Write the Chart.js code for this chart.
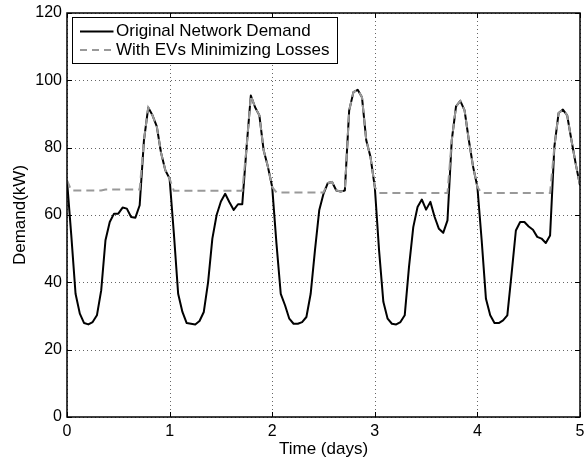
<!DOCTYPE html>
<html>
<head>
<meta charset="utf-8">
<title>Network demand</title>
<script src="https://cdn.jsdelivr.net/npm/chart.js@4.4.1/dist/chart.umd.min.js"></script>
<style>
  html, body { margin: 0; padding: 0; background: #fff; }
  #wrap { width: 584px; height: 462px; }
</style>
</head>
<body>
<div id="wrap"><canvas id="demandChart" width="584" height="462"></canvas></div>
<script>
// Hourly samples over five days (kW)
const HOURS_PER_DAY = 24;

const originalDemand = [
  70.3, 54.0, 36.6, 30.7, 27.9, 27.5, 28.2, 30.2, 37.6, 52.5, 57.9, 60.4,
  60.4, 62.2, 61.9, 59.4, 59.2, 62.9, 82.2, 91.9, 89.6, 86.3, 78.5, 73.3,
  70.8, 54.5, 36.6, 31.2, 27.9, 27.7, 27.5, 28.5, 31.2, 40.0, 53.0, 60.0,
  64.0, 66.3, 63.8, 61.5, 63.2, 63.2, 80.0, 95.5, 92.0, 89.6, 79.2, 74.3,
  68.3, 51.5, 36.6, 33.2, 29.2, 27.7, 27.7, 28.2, 29.7, 36.6, 49.5, 61.4,
  66.3, 69.5, 69.8, 67.3, 67.0, 67.3, 91.0, 96.5, 97.2, 95.0, 82.2, 77.2,
  68.3, 49.5, 34.2, 29.2, 27.7, 27.5, 28.2, 30.2, 44.6, 56.4, 62.4, 64.6,
  61.6, 63.9, 59.4, 55.9, 54.7, 58.4, 82.2, 92.3, 93.9, 91.1, 82.2, 74.3,
  68.3, 52.5, 35.1, 30.2, 27.9, 27.9, 28.7, 30.2, 42.6, 55.4, 57.9, 57.9,
  56.6, 55.6, 53.5, 53.0, 51.7, 53.9, 80.2, 90.3, 91.3, 89.6, 82.2, 75.2,
  68.8
];

const evDemand = [
  70.3, 67.3, 67.3, 67.3, 67.3, 67.3, 67.3, 67.3, 67.3, 67.6, 67.6, 67.6,
  67.6, 67.6, 67.6, 67.6, 67.6, 67.6, 82.2, 91.9, 89.6, 86.3, 78.5, 73.3,
  70.8, 67.2, 67.2, 67.2, 67.2, 67.2, 67.2, 67.2, 67.2, 67.2, 67.2, 67.2,
  67.2, 67.2, 67.2, 67.2, 67.2, 67.2, 80.0, 95.5, 92.0, 89.6, 79.2, 74.3,
  68.3, 66.7, 66.7, 66.7, 66.7, 66.7, 66.7, 66.7, 66.7, 66.7, 66.7, 66.7,
  66.7, 69.5, 69.8, 67.3, 67.0, 67.3, 91.0, 96.5, 97.2, 95.0, 82.2, 77.2,
  68.3, 66.5, 66.5, 66.5, 66.5, 66.5, 66.5, 66.5, 66.5, 66.5, 66.5, 66.5,
  66.5, 66.5, 66.5, 66.5, 66.5, 66.5, 82.2, 92.3, 93.9, 91.1, 82.2, 74.3,
  68.3, 66.5, 66.5, 66.5, 66.5, 66.5, 66.5, 66.5, 66.5, 66.5, 66.5, 66.5,
  66.5, 66.5, 66.5, 66.5, 66.5, 66.5, 80.2, 90.3, 91.3, 89.6, 82.2, 75.2,
  68.8
];

const seriesNames = ['Original Network Demand', 'With EVs Minimizing Losses'];
const dayTicks = [0, 1, 2, 3, 4, 5];
const demandTicks = [0, 20, 40, 60, 80, 100, 120];

const FONT = '"Liberation Sans", Arial, Helvetica, sans-serif';
const GREY = '#999999';

const toPoints = arr => arr.map((v, i) => ({ x: i / HOURS_PER_DAY, y: v }));

// grid, box frame with inward ticks, and the legend box
const matlabFrame = {
  id: 'matlabFrame',
  beforeDatasetsDraw(chart) {
    const { ctx, chartArea: a, scales: { x, y } } = chart;
    ctx.save();
    ctx.strokeStyle = '#666';
    ctx.lineWidth = 1;
    ctx.setLineDash([1, 3]);
    dayTicks.forEach(t => {
      const px = Math.round(x.getPixelForValue(t)) + 0.5;
      ctx.beginPath(); ctx.moveTo(px, a.top); ctx.lineTo(px, a.bottom); ctx.stroke();
    });
    demandTicks.forEach(t => {
      const py = Math.round(y.getPixelForValue(t)) + 0.5;
      ctx.beginPath(); ctx.moveTo(a.left, py); ctx.lineTo(a.right, py); ctx.stroke();
    });
    ctx.restore();
  },
  afterDatasetsDraw(chart) {
    const { ctx, chartArea: a, scales: { x, y } } = chart;
    const tick = 5;
    ctx.save();
    ctx.setLineDash([]);
    ctx.strokeStyle = '#000';
    ctx.lineWidth = 1.5;
    ctx.strokeRect(a.left, a.top, a.right - a.left, a.bottom - a.top);

    ctx.lineWidth = 1;
    dayTicks.forEach(t => {
      const px = Math.round(x.getPixelForValue(t)) + 0.5;
      ctx.beginPath();
      ctx.moveTo(px, a.bottom); ctx.lineTo(px, a.bottom - tick);
      ctx.moveTo(px, a.top); ctx.lineTo(px, a.top + tick);
      ctx.stroke();
    });
    demandTicks.forEach(t => {
      const py = Math.round(y.getPixelForValue(t)) + 0.5;
      ctx.beginPath();
      ctx.moveTo(a.left, py); ctx.lineTo(a.left + tick, py);
      ctx.moveTo(a.right, py); ctx.lineTo(a.right - tick, py);
      ctx.stroke();
    });

    // legend
    const lx = a.left + 5.5, ly = a.top + 4.5, lw = 265, lh = 46;
    ctx.fillStyle = '#fff';
    ctx.fillRect(lx, ly, lw, lh);
    ctx.strokeStyle = '#000';
    ctx.lineWidth = 1;
    ctx.strokeRect(lx, ly, lw, lh);

    const rows = [
      { y: ly + 14, color: '#000', dash: [], width: 2 },
      { y: ly + 32.5, color: GREY, dash: [7, 5], width: 2 }
    ];
    rows.forEach((r, i) => {
      ctx.beginPath();
      ctx.strokeStyle = r.color;
      ctx.lineWidth = r.width;
      ctx.setLineDash(r.dash);
      ctx.moveTo(lx + 7.5, r.y);
      ctx.lineTo(lx + 41, r.y);
      ctx.stroke();
      ctx.setLineDash([]);
      ctx.fillStyle = '#000';
      ctx.font = '17px ' + FONT;
      ctx.textAlign = 'left';
      ctx.textBaseline = 'middle';
      ctx.fillText(seriesNames[i], lx + 43.5, r.y);
    });
    ctx.restore();
  }
};

const ctx = document.getElementById('demandChart').getContext('2d');

const demandChart = new Chart(ctx, {
  type: 'line',
  data: {
    datasets: [
      {
        label: seriesNames[0],
        data: toPoints(originalDemand),
        borderColor: '#000',
        borderWidth: 2,
        borderJoinStyle: 'round',
        pointRadius: 0,
        tension: 0,
        order: 1
      },
      {
        label: seriesNames[1],
        data: toPoints(evDemand),
        borderColor: GREY,
        borderWidth: 2,
        borderDash: [8, 5],
        pointRadius: 0,
        tension: 0,
        order: 0
      }
    ]
  },
  options: {
    responsive: false,
    animation: false,
    events: [],
    layout: { padding: { top: 13, right: 4, left: 0, bottom: 0 } },
    plugins: {
      legend: { display: false },
      tooltip: { enabled: false }
    },
    scales: {
      x: {
        type: 'linear',
        min: 0,
        max: 5,
        afterBuildTicks: s => { s.ticks = dayTicks.map(v => ({ value: v })); },
        afterFit: s => {
          s.height = 45;
          s.paddingLeft = 0;
          s.paddingRight = 0;
        },
        grid: { display: false, drawTicks: false },
        border: { display: false },
        ticks: {
          color: '#000',
          padding: 5,
          maxRotation: 0,
          font: { family: FONT, size: 16 }
        },
        title: {
          display: true,
          text: 'Time (days)',
          color: '#000',
          font: { family: FONT, size: 17 },
          padding: { top: 0, bottom: 2 }
        }
      },
      y: {
        type: 'linear',
        min: 0,
        max: 120,
        afterBuildTicks: s => { s.ticks = demandTicks.map(v => ({ value: v })); },
        afterFit: s => {
          s.width = 67;
          s.paddingTop = 0;
          s.paddingBottom = 0;
        },
        grid: { display: false, drawTicks: false },
        border: { display: false },
        ticks: {
          color: '#000',
          padding: 5,
          font: { family: FONT, size: 16 }
        },
        title: {
          display: true,
          text: 'Demand(kW)',
          color: '#000',
          font: { family: FONT, size: 17 },
          padding: { top: 10, bottom: 0 }
        }
      }
    }
  },
  plugins: [matlabFrame]
});
</script>
</body>
</html>
